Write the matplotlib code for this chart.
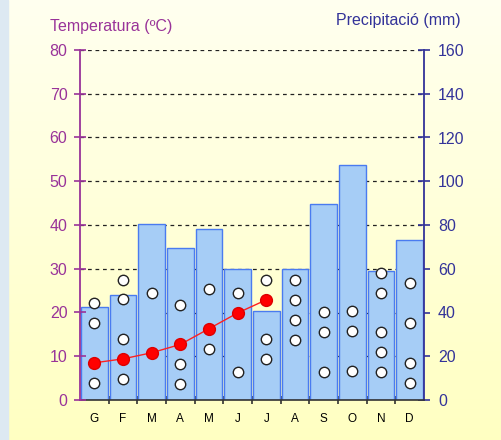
import numpy as np
import matplotlib.pyplot as plt
from matplotlib.ticker import MultipleLocator

months = ['G', 'F', 'M', 'A', 'M', 'J', 'J', 'A', 'S', 'O', 'N', 'D']
precip = [42.4, 48.0, 80.5, 69.7, 78.0, 60.0, 40.6, 60.0, 89.4, 107.3, 58.8, 73.2]
temp = [8.5, 9.4, 10.8, 12.7, 16.3, 19.9, 22.9]   # only G..J
circles = [
    [22.1, 17.6, 3.9],
    [27.4, 23.0, 13.9, 4.8],
    [24.5],
    [21.8, 8.2, 3.6],
    [25.4, 11.7],
    [24.5, 6.3],
    [27.4, 13.9, 9.4],
    [27.4, 22.9, 18.3, 13.8],
    [20.0, 15.5, 6.4],
    [20.3, 15.7, 6.7],
    [29.1, 24.5, 15.5, 10.9, 6.3],
    [26.7, 17.6, 8.5, 3.9],
]

purple = '#993399'
navy = '#333399'
plt.rcParams['font.family'] = ['Liberation Sans', 'DejaVu Sans']

fig = plt.figure(figsize=(5.01, 4.40), dpi=100)

# background gradient + blue strip on the left
bg = fig.add_axes([0, 0, 1, 1], zorder=-10)
grad = np.linspace(0, 1, 256).reshape(-1, 1)
c_top = np.array([1.0, 1.0, 0.94])
c_bot = np.array([1.0, 1.0, 0.76])
img = c_top + (c_bot - c_top) * grad[:, :, None]
bg.imshow(img, aspect='auto', extent=[0, 1, 0, 1])
bg.axvspan(0, 8 / 501, color='#dde9f2')
bg.set_xlim(0, 1)
bg.set_ylim(0, 1)
bg.axis('off')

x = np.arange(len(months))
ax = fig.add_axes([80 / 501, 1 - 400 / 440, 344 / 501, 350 / 440])
ax.patch.set_alpha(0)
ax.bar(x, precip, width=0.92, color='#a6cdf6', edgecolor='#4a7bf0', linewidth=1, zorder=2)
ax.set_ylim(0, 160)
ax.set_xlim(-0.5, 11.5)
ax.grid(axis='y', color='#222222', linestyle=(0, (3, 3)), linewidth=0.9, zorder=0)
ax.set_axisbelow(True)

axt = ax.twinx()
axt.set_ylim(0, 80)
axt.yaxis.tick_left()
axt.yaxis.set_major_locator(MultipleLocator(10))
axt.tick_params(axis='y', colors=purple, labelcolor=purple, direction='inout', length=8,
                width=1.2, labelsize=11.5, pad=5)
axt.spines['left'].set_color(purple)
axt.spines['left'].set_linewidth(1.3)
for s in ['top', 'right', 'bottom']:
    axt.spines[s].set_visible(False)

# precipitation axis on the right (after twinx, which resets it)
ax.yaxis.tick_right()
ax.yaxis.set_major_locator(MultipleLocator(20))
ax.tick_params(axis='y', colors=navy, labelcolor=navy, direction='inout', length=8,
               width=1.2, labelsize=11.5, pad=6)
ax.spines['right'].set_color(navy)
ax.spines['right'].set_linewidth(1.3)
ax.spines['top'].set_visible(False)
ax.spines['left'].set_visible(False)
ax.spines['bottom'].set_color('#333333')
ax.spines['bottom'].set_linewidth(1.2)

ax.set_xticks(x)
ax.set_xticklabels(months)
ax.set_xticks(np.arange(0.5, 11, 1), minor=True)
ax.tick_params(axis='x', which='major', length=0, labelsize=8.5, pad=9)
ax.tick_params(axis='x', which='minor', direction='inout', length=6, width=1.1, color='#222222')

for i, vals in enumerate(circles):
    axt.plot([i] * len(vals), vals, 'o', ms=7.5, mfc='white', mec='#222222', mew=1, zorder=3)
axt.plot(x[:len(temp)], temp, '-', color='#ff2020', lw=1, zorder=4)
axt.plot(x[:len(temp)], temp, 'o', ms=8.5, color='#ff0000', mec='#dd0000', zorder=5)

fig.text(50 / 501, 1 - 27 / 440, 'Temperatura (ºC)', color=purple, fontsize=11.5, va='center')
fig.text(461 / 501, 1 - 20 / 440, 'Precipitació (mm)', color=navy, fontsize=11.5,
         va='center', ha='right')

fig.savefig('out.png', dpi=100)
